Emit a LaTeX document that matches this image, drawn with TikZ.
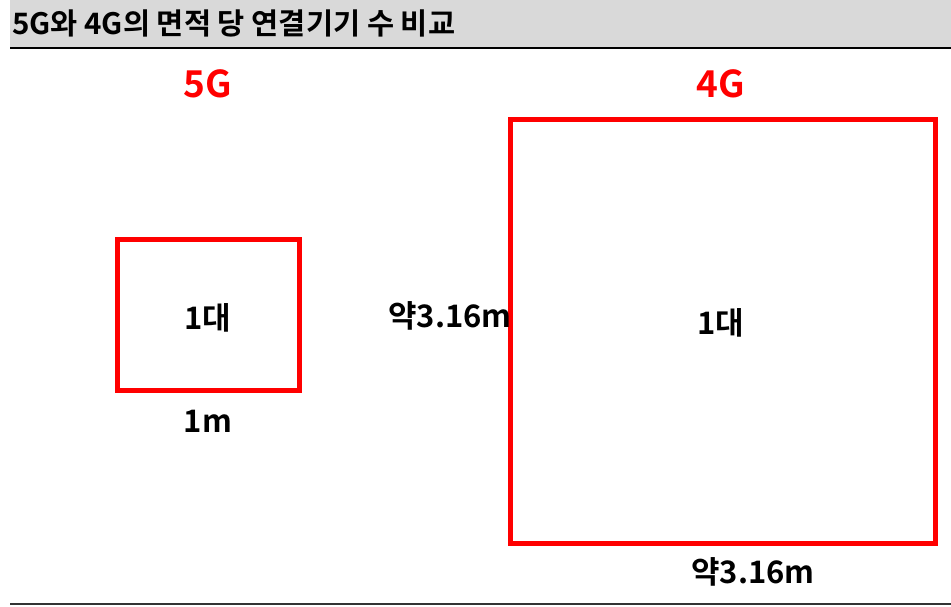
\documentclass[tikz,border=0pt]{standalone}
\usepackage{fontspec}
\setmainfont{Noto Sans CJK KR}[BoldFont={Noto Sans CJK KR Bold}]
\definecolor{hdrgray}{RGB}{217,217,217}
\definecolor{boxred}{RGB}{255,0,0}
\begin{document}
\begin{tikzpicture}[x=1pt,y=-1pt,
  lbl/.style={font=\bfseries\fontsize{31}{35}\selectfont, inner sep=0pt},
  gtitle/.style={font=\bfseries\fontsize{37}{42}\selectfont, text=boxred, inner sep=0pt},
  redbox/.style={draw=boxred, line width=5pt}]
\useasboundingbox (0,0) rectangle (951,606);
\fill[hdrgray] (10,0) rectangle (951,47);
\draw[line width=2.5pt] (10,48) -- (951,48);
\draw[line width=1.5pt, black!80] (10,604) -- (951,604);
\node[anchor=west, inner sep=0pt, font=\bfseries\fontsize{29.5}{33}\selectfont] (title) at (12,23) {5G와 4G의 면적 당 연결기기 수 비교};
\node[gtitle] (t5) at (208,84) {5G};
\node[gtitle] (t4) at (721,84) {4G};
\node[redbox, minimum width=182pt, minimum height=151pt, inner sep=0pt] (b5) at (208,314.5) {};
\node[redbox, minimum width=425pt, minimum height=424pt, inner sep=0pt] (b4) at (722.5,331) {};
\node[lbl] (c5) at (208,318) {1대};
\node[lbl] (c4) at (721,323) {1대};
\node[lbl] (w5) at (208,421) {1m};
\node[lbl] (h4) at (450,316) {약3.16m};
\node[lbl] (w4) at (753,572) {약3.16m};
\end{tikzpicture}
\end{document}
